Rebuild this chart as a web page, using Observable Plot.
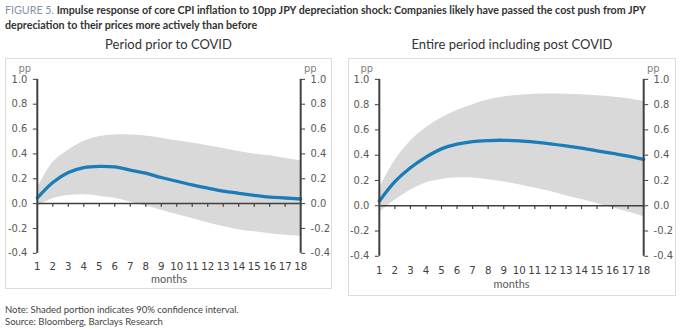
<!DOCTYPE html>
<html>
<head>
<meta charset="utf-8">
<script src="https://cdn.jsdelivr.net/npm/d3@7"></script>
<script src="https://cdn.jsdelivr.net/npm/@observablehq/plot@0.6"></script>
<style>
  body { margin: 0; background: #fff; }
  #wrap { position: relative; width: 685px; height: 329px; overflow: hidden; font-family: Lato, "Open Sans", sans-serif; color: #333; }
  .title { position: absolute; left: 5px; top: 3px; font-size: 10.7px; line-height: 14.5px; font-weight: bold; color: #333; white-space: nowrap; }
  .title .fig { color: #7f93a8; font-weight: normal; }
  .ptitle { position: absolute; top: 36px; font-size: 13px; color: #333; text-align: center; }
  .panel { position: absolute; border: 1px solid #dcdcdc; box-sizing: border-box; }
  .panel svg { display: block; position: absolute; left: -1px; top: -1px; }
  .note { position: absolute; left: 5px; top: 304px; font-size: 9.5px; line-height: 12px; color: #444; }
</style>
</head>
<body>
<div id="wrap">
  <div class="title"><span class="fig">FIGURE 5.</span> Impulse response of core CPI inflation to 10pp JPY depreciation shock: Companies likely have passed the cost push from JPY<br>depreciation to their prices more actively than before</div>
  <div class="ptitle" style="left:5px;width:327px;">Period prior to COVID</div>
  <div class="ptitle" style="left:348px;width:328px;">Entire period including post COVID</div>
  <div class="panel" id="p1" style="left:5px;top:58px;width:327px;height:231px;"></div>
  <div class="panel" id="p2" style="left:348px;top:58px;width:328px;height:238px;"></div>
  <div class="note">Note: Shaded portion indicates 90% confidence interval.<br>Source: Bloomberg, Barclays Research</div>
</div>
<script>
const months = [1,2,3,4,5,6,7,8,9,10,11,12,13,14,15,16,17,18];
const yTicks = [-0.4,-0.2,0.0,0.2,0.4,0.6,0.8,1.0];

// Period prior to COVID
const preMid = [0.045,0.17,0.25,0.29,0.30,0.295,0.27,0.245,0.21,0.18,0.15,0.125,0.10,0.083,0.067,0.053,0.045,0.037];
const preHi  = [0.12,0.33,0.43,0.50,0.54,0.553,0.553,0.545,0.527,0.505,0.487,0.465,0.444,0.42,0.40,0.385,0.364,0.345];
const preLo  = [-0.02,0.04,0.065,0.072,0.06,0.043,0.013,-0.02,-0.053,-0.088,-0.12,-0.155,-0.185,-0.21,-0.227,-0.243,-0.254,-0.262];

// Entire period including post COVID
const allMid = [0.036,0.19,0.30,0.385,0.45,0.487,0.508,0.516,0.518,0.513,0.503,0.49,0.474,0.456,0.435,0.414,0.393,0.367];
const allHi  = [0.135,0.357,0.51,0.617,0.695,0.753,0.80,0.836,0.86,0.875,0.883,0.885,0.883,0.878,0.87,0.86,0.846,0.825];
const allLo  = [-0.055,0.044,0.122,0.18,0.208,0.221,0.219,0.206,0.188,0.167,0.14,0.112,0.08,0.05,0.018,-0.016,-0.05,-0.086];

function rows(mid, hi, lo) {
  return months.map((m, i) => ({m, mid: mid[i], hi: hi[i], lo: lo[i]}));
}

function panel(data, opts) {
  const axisCommon = {
    ticks: yTicks, tickSize: 4, tickPadding: 6,
    tickFormat: d => d.toFixed(1),
    fontSize: 10, color: "#595959", stroke: "#404040",
    label: null
  };
  return Plot.plot({
    width: opts.width, height: opts.height,
    marginLeft: opts.ml, marginRight: opts.mr, marginTop: opts.mt, marginBottom: opts.mb,
    style: {fontFamily: "'DejaVu Sans', sans-serif", background: "transparent", color: "#595959"},
    x: {domain: [1, 18]},
    y: {domain: [-0.4, 1.0]},
    marks: [
      Plot.areaY(data, {x: "m", y1: "lo", y2: "hi", fill: "#d9d9d9", curve: "catmull-rom"}),
      Plot.ruleY([0], {stroke: "#404040", strokeWidth: 1.5}),
      Plot.ruleX(months.slice(1), {x: d => d, y1: 0, y2: -0.03, stroke: "#404040", strokeWidth: 1.2}),
      Plot.lineY(data, {x: "m", y: "mid", stroke: "#1a7cb8", strokeWidth: 3.3, curve: "catmull-rom"}),
      Plot.ruleX([1, 18], {stroke: "#404040", strokeWidth: 2}),
      Plot.axisY({...axisCommon, anchor: "left"}),
      Plot.axisY({...axisCommon, anchor: "right"}),
      Plot.axisX({anchor: "bottom", ticks: months, tickSize: 0, tickPadding: opts.xpad, fontSize: 10.3, color: "#404040", label: null}),
      Plot.text(["pp"], {frameAnchor: "top-left", dx: -19, dy: -15, text: d => d, fontSize: 10, fill: "#808080"}),
      Plot.text(["pp"], {frameAnchor: "top-right", dx: 16, dy: -15, text: d => d, fontSize: 10, fill: "#808080"}),
      Plot.text(["months"], {frameAnchor: "bottom", dy: opts.mdy, text: d => d, fontSize: 11, fill: "#595959", fontFamily: "Lato, sans-serif"})
    ]
  });
}

document.getElementById("p1").appendChild(panel(rows(preMid, preHi, preLo),
  {width: 327, height: 231, ml: 32, mr: 30, mt: 21, mb: 35, xpad: 9, mdy: 30}));
document.getElementById("p2").appendChild(panel(rows(allMid, allHi, allLo),
  {width: 328, height: 238, ml: 31, mr: 31, mt: 21, mb: 39, xpad: 11, mdy: 32}));
</script>
</body>
</html>
